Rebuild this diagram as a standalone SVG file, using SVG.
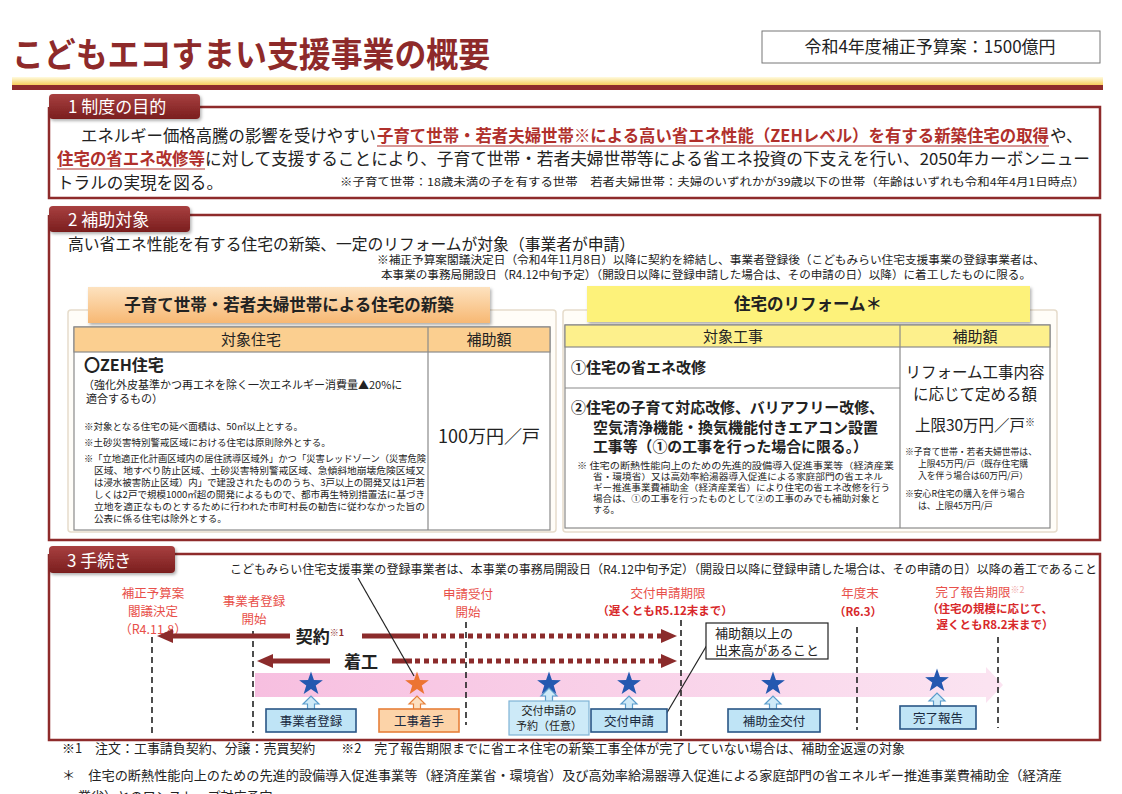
<svg xmlns="http://www.w3.org/2000/svg" width="1122" height="794" viewBox="0 0 1122 794">
<style>
text{font-family:"Noto Sans CJK JP","Noto Sans",sans-serif;fill:#222}
.title{font-size:34px;font-weight:bold;fill:#8e2a2a}
.tab{font-size:17px;fill:#fff}
.body{font-size:16.5px}
.em{font-size:16.5px;font-weight:bold;fill:#b0302c}
.sm{font-size:11px}
.xs{font-size:9.5px}
.xr{font-size:8.8px}
.hd{font-size:15px}
.b15{font-size:15px;font-weight:bold}
.lr{font-size:12.5px;fill:#e8504a}
.dr{font-size:11.5px;font-weight:bold;fill:#d8282a}
.box{font-size:12.5px;fill:#1a2a40}
.frame{fill:none;stroke:#8e2b2b;stroke-width:2.5}
.vd{stroke:#222;stroke-width:1.6;stroke-dasharray:6 4;fill:none}
.ar{stroke:#8b2b2b;stroke-width:5;fill:none}
.ard{stroke:#8b2b2b;stroke-width:5;stroke-dasharray:5 4;fill:none}
.lead{stroke:#222;stroke-width:1.2;fill:none}
.bbox{fill:#bfe4f6;stroke:#2a5686;stroke-width:1.6}
.obox{fill:#fcd3a8;stroke:#e6803a;stroke-width:1.6}
.uparr{fill:#cfeaf8;stroke:#5a9ccc;stroke-width:1.2}
.uparo{fill:#fde0c0;stroke:#e6803a;stroke-width:1.2}
.tbl{fill:#fff;stroke:#8a8a8a;stroke-width:1.2}
</style>
<defs>
<linearGradient id="gTab" x1="0" y1="0" x2="0" y2="1"><stop offset="0" stop-color="#a84040"/><stop offset="1" stop-color="#7a1e1e"/></linearGradient>
<linearGradient id="gBar" x1="0" y1="0" x2="0" y2="1"><stop offset="0" stop-color="#fffbe0"/><stop offset="1" stop-color="#f6c84a"/></linearGradient>
<linearGradient id="gOr" x1="0" y1="0" x2="0" y2="1"><stop offset="0" stop-color="#fde2bf"/><stop offset="1" stop-color="#f7b873"/></linearGradient>
<linearGradient id="gPink" x1="0" y1="0" x2="1" y2="0"><stop offset="0" stop-color="#f7bfe0"/><stop offset="1" stop-color="#fbe3f1"/></linearGradient>
<marker id="ah" markerUnits="userSpaceOnUse" markerWidth="16" markerHeight="14" viewBox="0 0 16 14" refX="3" refY="7" orient="auto"><path d="M0,0 L16,7 L0,14 Z" fill="#8b2b2b"/></marker>
<path id="star" d="M0,-12.5 L2.94,-4.05 L11.89,-3.86 L4.75,1.54 L7.35,10.11 L0,5 L-7.35,10.11 L-4.75,1.54 L-11.89,-3.86 L-2.94,-4.05 Z"/>
<path id="up" d="M-3.5,12 L-3.5,5 L-8,5 L0,-3 L8,5 L3.5,5 L3.5,12 Z"/>
<filter id="sh" x="-5%" y="-20%" width="110%" height="150%"><feDropShadow dx="1.5" dy="2" stdDeviation="1.5" flood-color="#000" flood-opacity="0.3"/></filter>
</defs>
<rect width="1122" height="794" fill="#fff"/>

<g id="header">
<text class="title" x="12" y="67" textLength="478" lengthAdjust="spacingAndGlyphs">こどもエコすまい支援事業の概要</text>
<rect x="762" y="31" width="338" height="32" fill="#fff" stroke="#777" stroke-width="1"/>
<text x="930" y="53" text-anchor="middle" font-size="17">令和4年度補正予算案：1500億円</text>
<rect x="12" y="77" width="1091" height="9" fill="url(#gBar)"/>
<rect x="12" y="85" width="1091" height="5" fill="#8e2b2b"/>
</g>

<g id="sec1">
<path class="frame" d="M200,107 L1100,107 L1100,198 L49,198 L49,107"/>
<rect x="49" y="94" width="151" height="25" rx="4" fill="url(#gTab)" filter="url(#sh)"/>
<text class="tab" x="68" y="113">1 制度の目的</text>
<text class="body" x="81" y="142" textLength="295" lengthAdjust="spacingAndGlyphs">エネルギー価格高騰の影響を受けやすい</text>
<text class="em" x="377" y="142" textLength="672" lengthAdjust="spacingAndGlyphs">子育て世帯・若者夫婦世帯※による高い省エネ性能（ZEHレベル）を有する新築住宅の取得</text>
<line x1="377" y1="146" x2="1049" y2="146" stroke="#b0302c" stroke-width="1.2"/>
<text class="body" x="1050" y="142">や、</text>
<text class="em" x="57" y="165" textLength="148" lengthAdjust="spacingAndGlyphs">住宅の省エネ改修等</text>
<line x1="57" y1="169" x2="205" y2="169" stroke="#b0302c" stroke-width="1.2"/>
<text class="body" x="205" y="165" textLength="885" lengthAdjust="spacingAndGlyphs">に対して支援することにより、子育て世帯・若者夫婦世帯等による省エネ投資の下支えを行い、2050年カーボンニュー</text>
<text class="body" x="57" y="189" textLength="166" lengthAdjust="spacingAndGlyphs">トラルの実現を図る。</text>
<text class="sm" x="340" y="186" textLength="745" lengthAdjust="spacingAndGlyphs">※子育て世帯：18歳未満の子を有する世帯　若者夫婦世帯：夫婦のいずれかが39歳以下の世帯（年齢はいずれも令和4年4月1日時点）</text>
</g>

<g id="sec2">
<path class="frame" d="M190,215 L1100,215 L1100,540 L49,540 L49,215"/>
<rect x="49" y="206" width="141" height="26" rx="4" fill="url(#gTab)" filter="url(#sh)"/>
<text class="tab" x="68" y="226">2 補助対象</text>
<text x="68" y="250" font-size="16" textLength="567" lengthAdjust="spacingAndGlyphs">高い省エネ性能を有する住宅の新築、一定のリフォームが対象（事業者が申請）</text>
<text x="377" y="264" font-size="11.5" textLength="668" lengthAdjust="spacingAndGlyphs">※補正予算案閣議決定日（令和4年11月8日）以降に契約を締結し、事業者登録後（こどもみらい住宅支援事業の登録事業者は、</text>
<text x="381" y="279" font-size="11.5" textLength="650" lengthAdjust="spacingAndGlyphs">本事業の事務局開設日（R4.12中旬予定）（開設日以降に登録申請した場合は、その申請の日）以降）に着工したものに限る。</text>
</g>

<g id="newbuild">
<rect x="68" y="310" width="488" height="222" fill="#fffdf8" stroke="#e6dccb" stroke-width="1.5" rx="3"/>
<rect x="88" y="287" width="402" height="36" fill="url(#gOr)" filter="url(#sh)"/>
<text x="289" y="311" text-anchor="middle" font-size="16.5" font-weight="bold">子育て世帯・若者夫婦世帯による住宅の新築</text>
<rect class="tbl" x="74" y="327" width="476" height="203"/>
<rect x="74" y="327" width="476" height="25" fill="#fbcf90" stroke="#8a8a8a" stroke-width="1.2"/>
<line x1="428" y1="327" x2="428" y2="530" stroke="#8a8a8a" stroke-width="1.2"/>
<text class="hd" x="251" y="345" text-anchor="middle">対象住宅</text>
<text class="hd" x="489" y="345" text-anchor="middle">補助額</text>
<text x="84" y="371" font-size="16" font-weight="bold">〇ZEH住宅</text>
<text x="83" y="389" font-size="11">（強化外皮基準かつ再エネを除く一次エネルギー消費量▲20%に</text>
<text x="86" y="403" font-size="11">適合するもの）</text>
<text class="xs" x="84" y="430">※対象となる住宅の延べ面積は、50㎡以上とする。</text>
<text class="xs" x="84" y="446">※土砂災害特別警戒区域における住宅は原則除外とする。</text>
<text class="xs" x="84" y="462" textLength="342" lengthAdjust="spacingAndGlyphs">※「立地適正化計画区域内の居住誘導区域外」かつ「災害レッドゾーン（災害危険</text>
<text class="xs" x="94" y="474" textLength="331" lengthAdjust="spacingAndGlyphs">区域、地すべり防止区域、土砂災害特別警戒区域、急傾斜地崩壊危険区域又</text>
<text class="xs" x="94" y="486" textLength="331" lengthAdjust="spacingAndGlyphs">は浸水被害防止区域）内」で建設されたもののうち、3戸以上の開発又は1戸若</text>
<text class="xs" x="94" y="498" textLength="331" lengthAdjust="spacingAndGlyphs">しくは2戸で規模1000㎡超の開発によるもので、都市再生特別措置法に基づき</text>
<text class="xs" x="94" y="510" textLength="331" lengthAdjust="spacingAndGlyphs">立地を適正なものとするために行われた市町村長の勧告に従わなかった旨の</text>
<text class="xs" x="94" y="522">公表に係る住宅は除外とする。</text>
<text x="489" y="443" text-anchor="middle" font-size="18">100万円／戸</text>
</g>

<g id="reform">
<rect x="563" y="310" width="494" height="222" fill="#fffdf8" stroke="#e6dccb" stroke-width="1.5" rx="3"/>
<rect x="587" y="286" width="443" height="36" fill="#fdf27a" filter="url(#sh)"/>
<text x="808" y="310" text-anchor="middle" font-size="16.5" font-weight="bold">住宅のリフォーム＊</text>
<rect class="tbl" x="565" y="325" width="485" height="203"/>
<rect x="565" y="325" width="485" height="22" fill="#fdf08c" stroke="#8a8a8a" stroke-width="1.2"/>
<line x1="900" y1="325" x2="900" y2="528" stroke="#8a8a8a" stroke-width="1.2"/>
<line x1="565" y1="388" x2="900" y2="388" stroke="#8a8a8a" stroke-width="1.2"/>
<text class="hd" x="733" y="342" text-anchor="middle">対象工事</text>
<text class="hd" x="975" y="342" text-anchor="middle">補助額</text>
<text class="b15" x="571" y="373">①住宅の省エネ改修</text>
<text class="b15" x="571" y="413" textLength="313" lengthAdjust="spacingAndGlyphs">②住宅の子育て対応改修、バリアフリー改修、</text>
<text class="b15" x="593" y="433" textLength="285" lengthAdjust="spacingAndGlyphs">空気清浄機能・換気機能付きエアコン設置</text>
<text class="b15" x="593" y="452" textLength="275" lengthAdjust="spacingAndGlyphs">工事等（①の工事を行った場合に限る。）</text>
<text class="xr" x="577" y="469" textLength="317" lengthAdjust="spacingAndGlyphs">※ 住宅の断熱性能向上のための先進的設備導入促進事業等（経済産業</text>
<text class="xr" x="593" y="480" textLength="290" lengthAdjust="spacingAndGlyphs">省・環境省）又は高効率給湯器導入促進による家庭部門の省エネル</text>
<text class="xr" x="593" y="491" textLength="297" lengthAdjust="spacingAndGlyphs">ギー推進事業費補助金（経済産業省）により住宅の省エネ改修を行う</text>
<text class="xr" x="593" y="502" textLength="287" lengthAdjust="spacingAndGlyphs">場合は、①の工事を行ったものとして②の工事のみでも補助対象と</text>
<text class="xr" x="593" y="513">する。</text>
<text x="975" y="378" text-anchor="middle" font-size="15.5">リフォーム工事内容</text>
<text x="975" y="400" text-anchor="middle" font-size="15.5">に応じて定める額</text>
<text x="975" y="431" text-anchor="middle" font-size="15.5">上限30万円／戸<tspan font-size="10" dy="-5">※</tspan></text>
<text class="xr" x="905" y="455">※子育て世帯・若者夫婦世帯は、</text>
<text class="xr" x="918" y="467">上限45万円/戸（既存住宅購</text>
<text class="xr" x="918" y="479">入を伴う場合は60万円/戸）</text>
<text class="xr" x="905" y="497">※安心R住宅の購入を伴う場合</text>
<text class="xr" x="918" y="509">は、上限45万円/戸</text>
</g>

<g id="sec3">
<path class="frame" d="M175,554 L1100,554 L1100,740 L49,740 L49,554"/>
<rect x="49" y="546" width="126" height="27" rx="4" fill="url(#gTab)" filter="url(#sh)"/>
<text class="tab" x="67" y="567">3 手続き</text>
<text x="230" y="574" font-size="12" textLength="867" lengthAdjust="spacingAndGlyphs">こどもみらい住宅支援事業の登録事業者は、本事業の事務局開設日（R4.12中旬予定）（開設日以降に登録申請した場合は、その申請の日）以降の着工であること</text>
</g>

<g id="milestones">
<text class="lr" x="153" y="598" text-anchor="middle">補正予算案</text>
<text class="lr" x="153" y="616" text-anchor="middle">閣議決定</text>
<text class="lr" x="153" y="634" text-anchor="middle">（R4.11.8）</text>
<text class="lr" x="254" y="606" text-anchor="middle">事業者登録</text>
<text class="lr" x="254" y="624" text-anchor="middle">開始</text>
<text class="lr" x="468" y="599" text-anchor="middle">申請受付</text>
<text class="lr" x="468" y="617" text-anchor="middle">開始</text>
<text class="lr" x="668" y="598" text-anchor="middle">交付申請期限</text>
<text class="dr" x="665" y="615" text-anchor="middle">（遅くともR5.12末まで）</text>
<text class="lr" x="860" y="598" text-anchor="middle">年度末</text>
<text class="dr" x="858" y="616" text-anchor="middle" font-weight="normal" fill="#d83030">（R6.3）</text>
<text class="lr" x="980" y="597" text-anchor="middle">完了報告期限<tspan font-size="9" dy="-4" fill="#f0a0a0">※2</tspan></text>
<text class="dr" x="990" y="613" text-anchor="middle">（住宅の規模に応じて、</text>
<text class="dr" x="995" y="629" text-anchor="middle">遅くともR8.2末まで）</text>
</g>

<g id="band">
<rect x="255" y="673" width="732" height="24" fill="url(#gPink)"/>
<path d="M986,667 L1003,685 L986,703 Z" fill="#fbe3f1"/>
</g>

<g id="connectors">
<line class="vd" x1="152" y1="637" x2="152" y2="735"/>
<line class="vd" x1="253" y1="631" x2="253" y2="733"/>
<line class="vd" x1="466" y1="622" x2="466" y2="725"/>
<line class="vd" x1="681" y1="620" x2="681" y2="737"/>
<line class="vd" x1="857" y1="627" x2="857" y2="730"/>
<line class="vd" x1="998" y1="637" x2="998" y2="728"/>
<line class="ar" x1="290" y1="636" x2="170" y2="636" marker-end="url(#ah)"/>
<line class="ar" x1="362" y1="636" x2="420" y2="636"/>
<line class="ard" x1="423" y1="636" x2="664" y2="636" marker-end="url(#ah)"/>
<line class="ar" x1="330" y1="661" x2="270" y2="661" marker-end="url(#ah)"/>
<line class="ar" x1="392" y1="661" x2="412" y2="661"/>
<line class="ard" x1="415" y1="661" x2="664" y2="661" marker-end="url(#ah)"/>
<line class="lead" x1="358" y1="578" x2="414" y2="676"/>
<line class="lead" x1="707" y1="645" x2="665" y2="716"/>
</g>

<g id="arrowlabels">
<text x="320" y="643" text-anchor="middle" font-size="17" font-weight="bold" fill="#8b2b2b">契約<tspan font-size="9" dy="-7" fill="#8b2b2b">※1</tspan></text>
<text x="361" y="668" text-anchor="middle" font-size="17" font-weight="bold" fill="#8b2b2b">着工</text>
</g>

<g id="callout">
<rect x="706" y="623" width="122" height="36" fill="#fff" stroke="#222" stroke-width="1.2"/>
<text x="715" y="638" font-size="13">補助額以上の</text>
<text x="715" y="655" font-size="13">出来高があること</text>
</g>

<g id="stars">
<use href="#star" x="311" y="684" fill="#2458b0"/>
<use href="#star" x="417" y="684" fill="#ec7433"/>
<use href="#star" x="549" y="684" fill="#2458b0"/>
<use href="#star" x="629" y="684" fill="#2458b0"/>
<use href="#star" x="773" y="684" fill="#2458b0"/>
<use href="#star" x="937" y="681" fill="#2458b0"/>
</g>

<g id="n-jigyosha">
<use href="#up" class="uparr" x="311" y="699"/>
<rect class="bbox" x="266" y="709" width="90" height="23"/>
<text class="box" x="311" y="726" text-anchor="middle">事業者登録</text>
</g>
<g id="n-chakushu">
<use href="#up" class="uparo" x="417" y="699"/>
<rect class="obox" x="379" y="709" width="80" height="23"/>
<text class="box" x="419" y="726" text-anchor="middle">工事着手</text>
</g>
<g id="n-yoyaku">
<use href="#up" class="uparr" x="549" y="691"/>
<rect x="509" y="701" width="80" height="34" fill="#cdeaf8" stroke="#7fb3d6" stroke-width="1.2"/>
<text x="549" y="715" text-anchor="middle" font-size="11" fill="#1a2a40">交付申請の</text>
<text x="549" y="730" text-anchor="middle" font-size="11" fill="#1a2a40">予約（任意）</text>
</g>
<g id="n-kofu">
<use href="#up" class="uparr" x="629" y="699"/>
<rect class="bbox" x="591" y="709" width="76" height="23"/>
<text class="box" x="629" y="726" text-anchor="middle">交付申請</text>
</g>
<g id="n-hojokin">
<use href="#up" class="uparr" x="773" y="699"/>
<rect class="bbox" x="728" y="709" width="92" height="23"/>
<text class="box" x="774" y="726" text-anchor="middle">補助金交付</text>
</g>
<g id="n-kanryo">
<use href="#up" class="uparr" x="937" y="696"/>
<rect class="bbox" x="900" y="706" width="76" height="23"/>
<text class="box" x="938" y="723" text-anchor="middle">完了報告</text>
</g>

<g id="footnotes">
<text x="62" y="753" font-size="13" textLength="843" lengthAdjust="spacingAndGlyphs">※1　注文：工事請負契約、分譲：売買契約　　※2　完了報告期限までに省エネ住宅の新築工事全体が完了していない場合は、補助金返還の対象</text>
<text x="62" y="780" font-size="13" textLength="1000" lengthAdjust="spacingAndGlyphs">＊　住宅の断熱性能向上のための先進的設備導入促進事業等（経済産業省・環境省）及び高効率給湯器導入促進による家庭部門の省エネルギー推進事業費補助金（経済産</text>
<text x="78" y="801" font-size="13">業省）とのワンストップ対応予定</text>
</g>
</svg>
